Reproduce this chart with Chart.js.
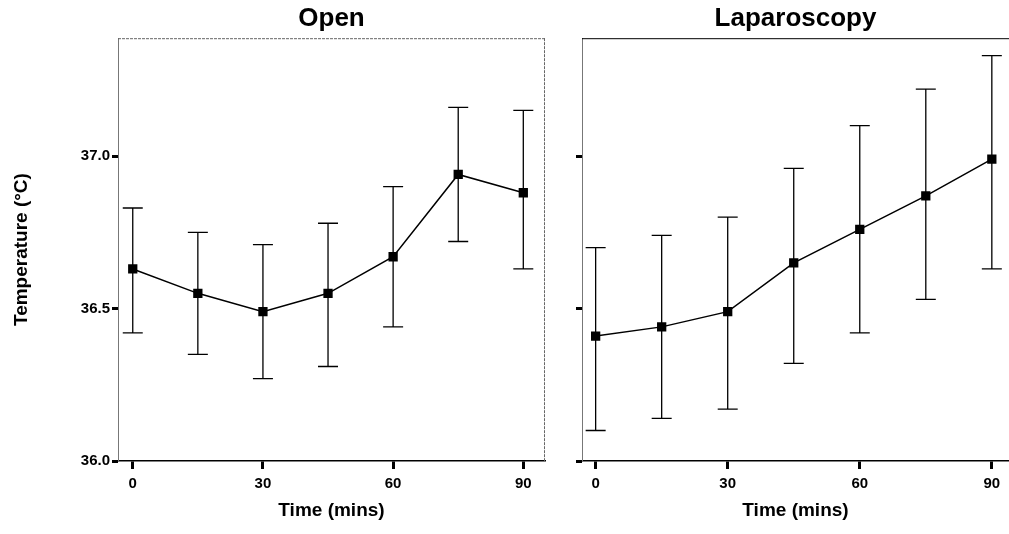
<!DOCTYPE html>
<html>
<head>
<meta charset="utf-8">
<script src="https://cdn.jsdelivr.net/npm/chart.js@4"></script>
<style>
  body { margin: 0; background: #fff; overflow: hidden; }
  #wrap { position: relative; width: 1009px; height: 534px; overflow: hidden; }
  .panel { position: absolute; top: 0; height: 534px; }
</style>
</head>
<body>
<div id="wrap">
  <div class="panel" style="left:0;width:560px"><canvas id="openChart"></canvas></div>
  <div class="panel" style="left:560px;width:456px"><canvas id="lapChart"></canvas></div>
</div>
<script>
const times = [0, 15, 30, 45, 60, 75, 90];
const xTicks = [0, 30, 60, 90];
const yTicks = [36.0, 36.5, 37.0];

const openMean = [36.63, 36.55, 36.49, 36.55, 36.67, 36.94, 36.88];
const openUpper = [36.83, 36.75, 36.71, 36.78, 36.90, 37.16, 37.15];
const openLower = [36.42, 36.35, 36.27, 36.31, 36.44, 36.72, 36.63];

const lapMean = [36.41, 36.44, 36.49, 36.65, 36.76, 36.87, 36.99];
const lapUpper = [36.70, 36.74, 36.80, 36.96, 37.10, 37.22, 37.33];
const lapLower = [36.10, 36.14, 36.17, 36.32, 36.42, 36.53, 36.63];

const FONT = "'Liberation Sans', Arial, sans-serif";

// whiskers with caps, drawn under the line
const errorBars = {
  id: "errorBars",
  beforeDatasetsDraw(chart, args, opts) {
    const { ctx, scales: { x, y } } = chart;
    ctx.save();
    ctx.strokeStyle = "#000";
    ctx.lineWidth = 1.3;
    times.forEach((t, i) => {
      const px = x.getPixelForValue(t);
      const top = y.getPixelForValue(opts.upper[i]);
      const bot = y.getPixelForValue(opts.lower[i]);
      ctx.beginPath();
      ctx.moveTo(px, top); ctx.lineTo(px, bot);
      ctx.moveTo(px - 10, top); ctx.lineTo(px + 10, top);
      ctx.moveTo(px - 10, bot); ctx.lineTo(px + 10, bot);
      ctx.stroke();
    });
    ctx.restore();
  }
};

// top and right edges of the plot box
const frame = {
  id: "frame",
  afterDraw(chart, args, opts) {
    const { ctx, chartArea: a } = chart;
    ctx.save();
    ctx.strokeStyle = opts.color;
    ctx.lineWidth = 1;
    ctx.setLineDash(opts.dash);
    ctx.beginPath();
    ctx.moveTo(a.left, a.top + 0.5); ctx.lineTo(a.right, a.top + 0.5);
    if (opts.right) { ctx.moveTo(a.right - 0.5, a.top); ctx.lineTo(a.right - 0.5, a.bottom); }
    ctx.stroke();
    ctx.restore();
  }
};

function makePanel(id, title, mean, lower, upper, cfg) {
  return new Chart(document.getElementById(id), {
    type: "line",
    data: {
      datasets: [{
        data: times.map((t, i) => ({ x: t, y: mean[i] })),
        borderColor: "#000",
        borderWidth: 1.5,
        pointStyle: "rect",
        pointRadius: 5.5,
        pointBackgroundColor: "#000",
        pointBorderColor: "#000",
        tension: 0
      }]
    },
    options: {
      responsive: true,
      maintainAspectRatio: false,
      animation: false,
      layout: { padding: { left: 0, right: cfg.padRight, top: 0, bottom: 0 } },
      plugins: {
        legend: { display: false },
        tooltip: { enabled: false },
        title: {
          display: true,
          fullSize: false,
          text: title,
          color: "#000",
          font: { family: FONT, size: 26, weight: "bold" },
          padding: { top: 3, bottom: 4 }
        },
        errorBars: { upper, lower },
        frame: { color: cfg.frameColor, dash: cfg.frameDash, right: cfg.rightEdge }
      },
      scales: {
        x: {
          type: "linear",
          min: cfg.xMin,
          max: cfg.xMax,
          afterBuildTicks: (s) => { s.ticks = xTicks.map((v) => ({ value: v })); },
          afterFit: (s) => { s.height = 73; },
          border: { color: "#000", width: 1.5 },
          grid: { drawOnChartArea: false, tickLength: 8, tickWidth: 3, tickColor: "#000" },
          ticks: { color: "#000", padding: 6, font: { family: FONT, size: 15, weight: "bold" } },
          title: {
            display: true,
            text: "Time (mins)",
            color: "#000",
            font: { family: FONT, size: 19, weight: "bold" },
            padding: { top: 0, bottom: 12 }
          }
        },
        y: {
          min: 36.0,
          max: 37.387,
          afterBuildTicks: (s) => { s.ticks = yTicks.map((v) => ({ value: v })); },
          afterFit: (s) => { s.width = cfg.yWidth; },
          border: { color: "#777", width: 1, dash: [2, 1] },
          grid: { drawOnChartArea: false, tickLength: 6, tickWidth: 3, tickColor: "#000" },
          ticks: {
            display: cfg.yLabels,
            color: "#000",
            padding: 2,
            font: { family: FONT, size: 15, weight: "bold" },
            callback: (v) => v.toFixed(1)
          },
          title: {
            display: cfg.yLabels,
            text: "Temperature (°C)",
            color: "#000",
            font: { family: FONT, size: 19, weight: "bold" },
            padding: { top: 10, bottom: 0 }
          }
        }
      }
    },
    plugins: [errorBars, frame]
  });
}

makePanel("openChart", "Open", openMean, openLower, openUpper, {
  padRight: 15, yWidth: 118, yLabels: true, xMin: -3.4, xMax: 95.0,
  frameColor: "#666", frameDash: [3, 1], rightEdge: true
});

makePanel("lapChart", "Laparoscopy", lapMean, lapLower, lapUpper, {
  padRight: 0, yWidth: 22, yLabels: false, xMin: -3.1, xMax: 93.9,
  frameColor: "#000", frameDash: [], rightEdge: false
});
</script>
</body>
</html>
